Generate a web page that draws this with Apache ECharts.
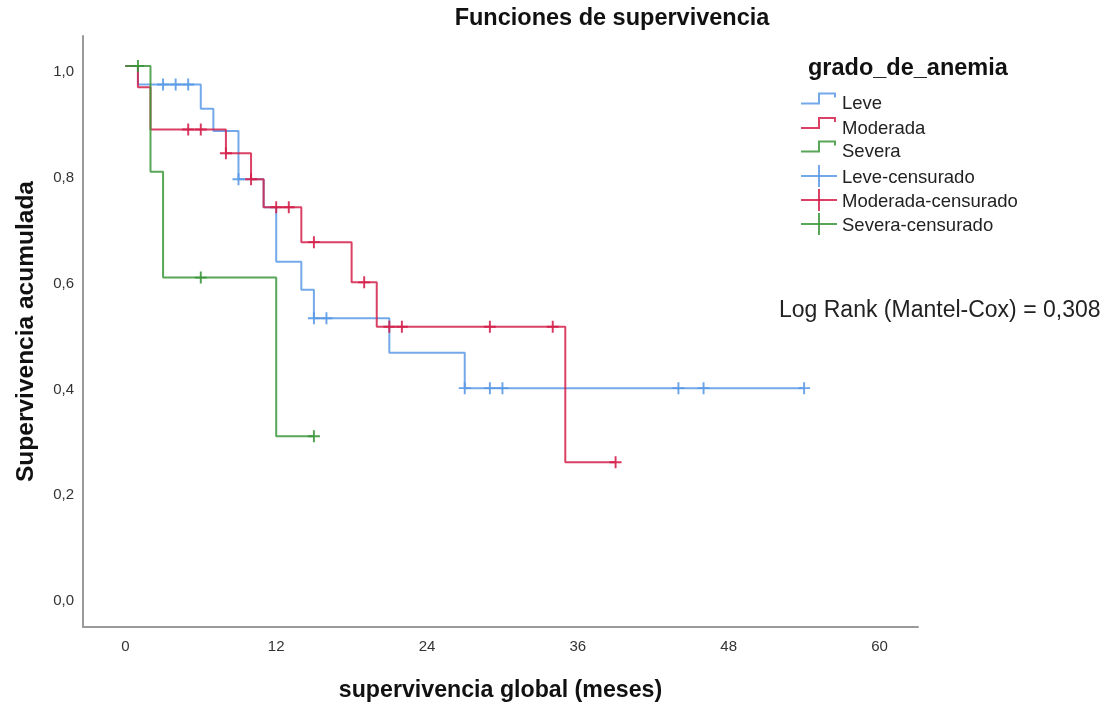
<!DOCTYPE html>
<html>
<head>
<meta charset="utf-8">
<script src="https://cdn.jsdelivr.net/npm/echarts@6/dist/echarts.min.js"></script>
<style>
  html, body { margin: 0; padding: 0; background: #fff; }
  #chart { width: 1111px; height: 702px; }
</style>
</head>
<body>
<div id="chart"></div>
<script>
// Kaplan-Meier curves by anemia grade: [month, cumulative survival] at each step
const leveSteps = [[0, 1], [1, 0.965], [6, 0.919], [7, 0.877], [9, 0.786], [11, 0.733], [12, 0.630], [14, 0.577], [15, 0.523], [21, 0.458], [27, 0.391], [54, 0.391]];
const moderadaSteps = [[0, 1], [1, 0.960], [2, 0.880], [8, 0.835], [10, 0.786], [11, 0.733], [14, 0.667], [18, 0.591], [20, 0.507], [35, 0.251], [39, 0.251]];
const severaSteps = [[0, 1], [2, 0.800], [3, 0.600], [12, 0.300], [15, 0.300]];

// Censored observations
const leveCensored = [[3, 0.965], [4, 0.965], [5, 0.965], [9, 0.786], [15, 0.523], [16, 0.523], [27, 0.391], [29, 0.391], [30, 0.391], [44, 0.391], [46, 0.391], [54, 0.391]];
const moderadaCensored = [[5, 0.880], [6, 0.880], [8, 0.835], [10, 0.786], [12, 0.733], [13, 0.733], [15, 0.667], [19, 0.591], [21, 0.507], [22, 0.507], [29, 0.507], [34, 0.507], [39, 0.251]];
const severaCensored = [[1, 1], [6, 0.600], [15, 0.300]];

const groupNames = ['Leve', 'Moderada', 'Severa'];
const censoredSuffix = '-censurado';
const xTickValues = [0, 12, 24, 36, 48, 60];
const yTickValues = [0, 0.2, 0.4, 0.6, 0.8, 1.0];

const titleText = 'Funciones de supervivencia';
const legendTitle = 'grado_de_anemia';
const logRankText = 'Log Rank (Mantel-Cox) = 0,308';
const xName = 'supervivencia global (meses)';
const yName = 'Supervivencia acumulada';

const colors = ['#5a9ae6', '#d4204a', '#3b963b'];
const FONT = '"Liberation Sans", Arial, sans-serif';
const plusSymbol = 'path://M4.2,0H5.8V10H4.2Z M0,4.2H10V5.8H0Z';

const stepData = [leveSteps, moderadaSteps, severaSteps];
const censData = [leveCensored, moderadaCensored, severaCensored];

const series = [];
groupNames.forEach((name, i) => {
  series.push({
    name: name,
    type: 'line',
    step: 'end',
    data: stepData[i],
    showSymbol: false,
    symbol: 'none',
    lineStyle: { color: colors[i], width: 2, opacity: 0.85 },
    itemStyle: { color: colors[i] },
    animation: false,
    z: 2 + i
  });
});
groupNames.forEach((name, i) => {
  series.push({
    name: name + censoredSuffix,
    type: 'scatter',
    data: censData[i],
    symbol: plusSymbol,
    symbolSize: [12, 12],
    itemStyle: { color: colors[i], opacity: 0.9 },
    animation: false,
    z: 6 + i
  });
});

// Legend drawn as graphic elements: step icons for curves, crosses for censored
const legendX = 801, legendTextX = 842;
const legendRows = [104, 128.5, 152, 177.5, 201.5, 225.5];
const legendGraphics = [{
  type: 'text', x: 808, y: 68.5,
  style: { text: legendTitle, font: 'bold 23.5px ' + FONT, fill: '#111', textVerticalAlign: 'middle' }
}];
groupNames.forEach((name, i) => {
  const cy = legendRows[i];
  legendGraphics.push({
    type: 'polyline',
    shape: { points: [[legendX, cy - 0.5], [819, cy - 0.5], [819, cy - 10.5], [835, cy - 10.5], [835, cy - 6.5]] },
    style: { stroke: colors[i], lineWidth: 2, fill: 'none', opacity: 0.85 }
  });
  legendGraphics.push({
    type: 'text', x: legendTextX, y: cy,
    style: { text: name, font: '18.5px ' + FONT, fill: '#222', textVerticalAlign: 'middle' }
  });
});
groupNames.forEach((name, i) => {
  const cy = legendRows[3 + i];
  legendGraphics.push({
    type: 'line', shape: { x1: legendX, y1: cy - 1.5, x2: 837, y2: cy - 1.5 },
    style: { stroke: colors[i], lineWidth: 2, opacity: 0.85 }
  });
  legendGraphics.push({
    type: 'line', shape: { x1: 819, y1: cy - 12.5, x2: 819, y2: cy + 9.5 },
    style: { stroke: colors[i], lineWidth: 2, opacity: 0.85 }
  });
  legendGraphics.push({
    type: 'text', x: legendTextX, y: cy,
    style: { text: name + censoredSuffix, font: '18.5px ' + FONT, fill: '#222', textVerticalAlign: 'middle' }
  });
});
legendGraphics.push({
  type: 'text', x: 779, y: 311,
  style: { text: logRankText, font: '23px ' + FONT, fill: '#222', textVerticalAlign: 'middle' }
});

const decimalComma = v => v.toFixed(1).replace('.', ',');
const axisLineStyle = { color: '#9a9a9a', width: 2 };

const chart = echarts.init(document.getElementById('chart'), null, { renderer: 'canvas' });
chart.setOption({
  backgroundColor: '#fff',
  animation: false,
  title: {
    text: titleText,
    left: 607, top: 2,
    textAlign: 'center',
    textStyle: { fontFamily: FONT, fontWeight: 'bold', fontSize: 23.5, color: '#111' }
  },
  grid: { left: 83, right: 193, top: 36, bottom: 75, outerBoundsMode: 'none', containLabel: false },
  xAxis: {
    type: 'value',
    min: -3.37, max: 63.06,
    name: xName,
    nameLocation: 'middle',
    nameGap: 52,
    nameTextStyle: { fontFamily: FONT, fontWeight: 'bold', fontSize: 23.2, color: '#111' },
    axisLine: { show: true, onZero: false, lineStyle: axisLineStyle },
    axisTick: { show: false },
    splitLine: { show: false },
    axisLabel: {
      customValues: xTickValues,
      margin: 12,
      fontFamily: FONT, fontSize: 15, color: '#333',
      formatter: v => String(v)
    }
  },
  yAxis: {
    type: 'value',
    min: -0.0605, max: 1.0567,
    name: yName,
    nameLocation: 'middle',
    nameGap: 44,
    nameRotate: 90,
    nameTextStyle: { fontFamily: FONT, fontWeight: 'bold', fontSize: 24.5, color: '#111' },
    axisLine: { show: true, onZero: false, lineStyle: axisLineStyle },
    axisTick: { show: false },
    splitLine: { show: false },
    axisLabel: {
      customValues: yTickValues,
      margin: 9,
      verticalAlign: 'top',
      lineHeight: 12,
      fontFamily: FONT, fontSize: 15, color: '#333',
      formatter: decimalComma
    }
  },
  graphic: legendGraphics,
  series: series
});
</script>
</body>
</html>
